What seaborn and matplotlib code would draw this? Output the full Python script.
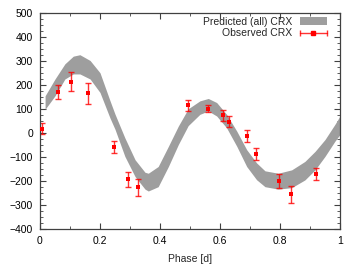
#!/usr/bin/env python3

import matplotlib
matplotlib.use("Agg")
import matplotlib.pyplot as plt
import numpy as np
import seaborn as sns
from matplotlib.ticker import MultipleLocator, StrMethodFormatter
from matplotlib.legend_handler import HandlerBase
from matplotlib.lines import Line2D
from matplotlib.patches import Patch


# predicted band
band_phase = [0.017, 0.05, 0.083, 0.111, 0.133, 0.167, 0.2, 0.233, 0.25, 0.283,
              0.317, 0.35, 0.361, 0.394, 0.428, 0.461, 0.494, 0.533, 0.561, 0.589,
              0.622, 0.656, 0.689, 0.722, 0.75, 0.794, 0.839, 0.883, 0.917, 0.95,
              0.983, 1.0]
band_upper = [154, 224, 287, 319, 325, 301, 250, 135, 78, -21,
              -112, -164, -168, -140, -56, 28, 100, 133, 143, 126,
              77, 7, -70, -125, -158, -168, -154, -119, -77, -28,
              35, 70]
band_lower = [98, 154, 224, 245, 245, 224, 168, 63, 15, -98,
              -182, -234, -242, -224, -140, -49, 30, 77, 91, 70,
              21, -56, -140, -195, -224, -234, -228, -196, -154, -98,
              -35, -7]

# observed CRX
obs_phase = [0.008, 0.061, 0.105, 0.159, 0.248, 0.292, 0.326, 0.494,
             0.559, 0.611, 0.631, 0.691, 0.72, 0.796, 0.836, 0.92]
obs_crx = [18, 171, 212, 165, -59, -193, -227, 115,
           101, 73, 46, -14, -87, -200, -255, -171]
obs_err = [21, 30, 40, 44, 26, 31, 35, 23,
           14, 22, 22, 25, 24, 30, 35, 26]

x_ticks = [0, 0.2, 0.4, 0.6, 0.8, 1]
y_ticks = list(range(-400, 501, 100))

BAND_COLOR = "#9e9e9e"
OBS_COLOR = "#ff0000"
FS = 7.5


class ErrbarHandler(HandlerBase):
    # gnuplot-like key: horizontal bar with caps and a square in the middle
    def create_artists(self, legend, orig_handle, xdescent, ydescent,
                       width, height, fontsize, trans):
        y = height / 2 - ydescent
        bar = Line2D([-xdescent, width - xdescent], [y, y], color=OBS_COLOR,
                     lw=1.0, marker="|", markersize=4, markeredgewidth=1.0,
                     alpha=0.8)
        sq = Line2D([width / 2 - xdescent], [y], color=OBS_COLOR, ls="none",
                    marker="s", markersize=3.2)
        bar.set_transform(trans)
        sq.set_transform(trans)
        return [bar, sq]


sns.set_style("ticks")
plt.rcParams["font.family"] = ["Liberation Sans", "DejaVu Sans"]
plt.rcParams["font.size"] = FS

fig = plt.figure(figsize=(3.59, 2.69), dpi=100)
ax = fig.add_axes([0.1114, 0.1487, 0.8356, 0.8043])

ax.fill_between(band_phase, band_lower, band_upper, color=BAND_COLOR,
                lw=0, zorder=1)

ax.errorbar(obs_phase, obs_crx, yerr=obs_err, fmt="none", ecolor=OBS_COLOR,
            elinewidth=1.0, capsize=2, capthick=1.0, alpha=0.8, zorder=2)
sns.scatterplot(x=obs_phase, y=obs_crx, ax=ax, color=OBS_COLOR, marker="s",
                s=11, linewidth=0, zorder=3)

ax.set_xlim(0, 1)
ax.set_ylim(-400, 500)
ax.set_xticks(x_ticks)
ax.set_yticks(y_ticks)
ax.xaxis.set_major_formatter(StrMethodFormatter("{x:g}"))
ax.xaxis.set_minor_locator(MultipleLocator(0.1))
ax.yaxis.set_minor_locator(MultipleLocator(25))
ax.tick_params(which="both", direction="in", top=True, right=True,
               colors="#404040", labelcolor="black", labelsize=FS)
ax.tick_params(which="major", length=4, width=0.8, pad=5)
ax.tick_params(which="minor", length=2, width=0.6)
for s in ax.spines.values():
    s.set_color("#404040")
    s.set_linewidth(0.9)

ax.set_xlabel("Phase [d]", fontsize=FS, labelpad=6)

labels = ["Predicted (all) CRX", "Observed CRX"]
ax.legend([Patch(facecolor=BAND_COLOR, edgecolor="none"), Line2D([], [])],
          labels, loc="upper right", bbox_to_anchor=(1 - 13 / 300, 1 - 4 / 216),
          frameon=False, markerfirst=False, borderpad=0, borderaxespad=0,
          handlelength=2.6, handleheight=0.7, handletextpad=0.7,
          labelspacing=0.15, fontsize=FS,
          handler_map={Line2D: ErrbarHandler()})

fig.savefig("out.png", dpi=100)
